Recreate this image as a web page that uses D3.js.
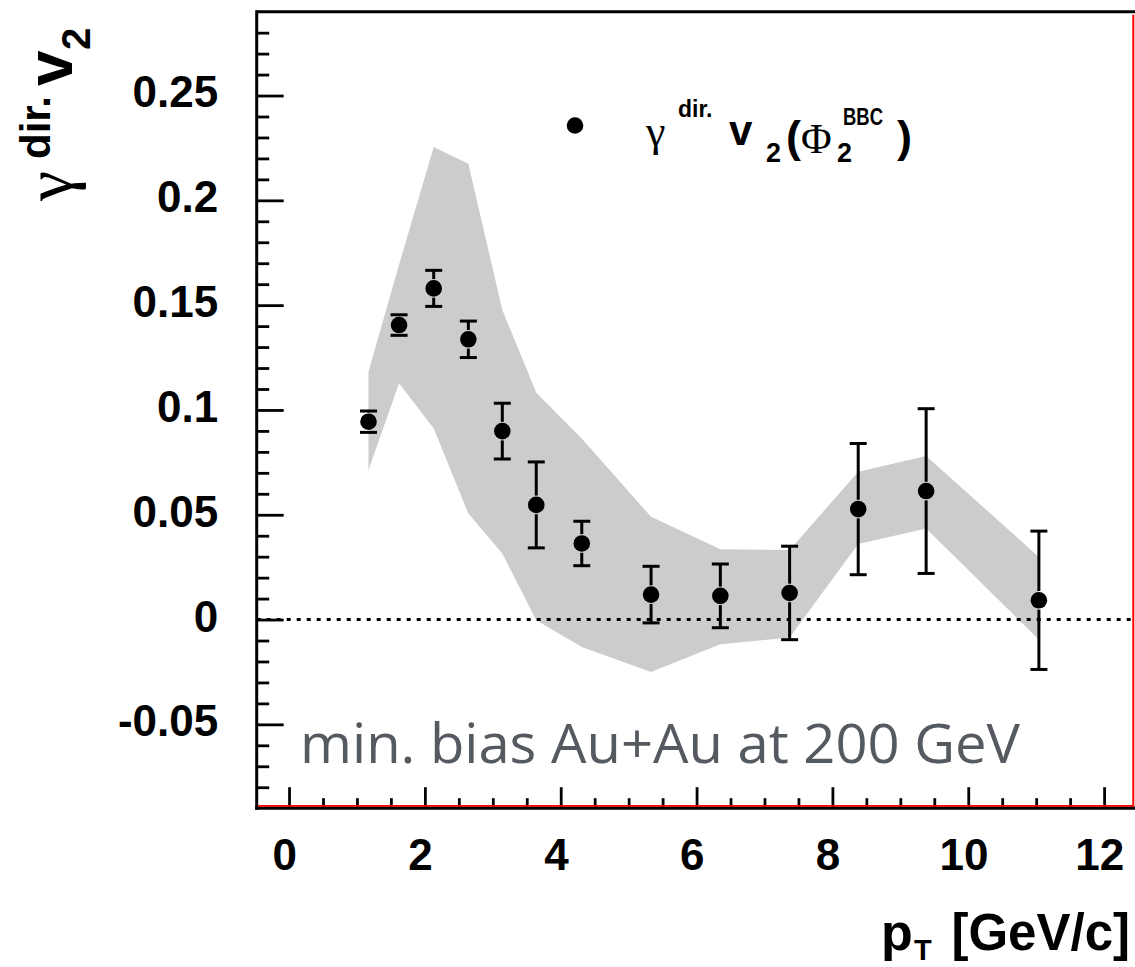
<!DOCTYPE html>
<html>
<head>
<meta charset="utf-8">
<script src="https://cdn.jsdelivr.net/npm/d3@7"></script>
<style>
  html, body { margin: 0; padding: 0; background: #fff; }
  svg { display: block; }
</style>
</head>
<body>
<script>
// ---- data ----
const pt      = [1.17, 1.62, 2.13, 2.64, 3.14, 3.64, 4.31, 5.33, 6.35, 7.37, 8.38, 9.38, 11.04];
const v2      = [0.0944, 0.1405, 0.158, 0.1337, 0.0899, 0.0547, 0.0363, 0.0119, 0.0113, 0.0127, 0.0527, 0.0613, 0.0092];
const statErr = [0.0051, 0.0049, 0.0086, 0.0087, 0.0133, 0.0205, 0.0106, 0.0135, 0.0152, 0.0223, 0.0313, 0.0393, 0.0330];
const sysHigh = [0.1182, 0.1693, 0.2254, 0.2175, 0.1477, 0.1082, 0.0864, 0.0490, 0.0336, 0.0332, 0.0705, 0.0780, 0.0299];
const sysLow  = [0.0713, 0.1127, 0.0912, 0.0506, 0.0315, -0.0003, -0.0131, -0.0250, -0.0118, -0.0086, 0.0360, 0.0435, -0.0096];

const xTicks = [0, 2, 4, 6, 8, 10, 12];
const yTicks = [-0.05, 0, 0.05, 0.1, 0.15, 0.2, 0.25];
const xMinorTicks = d3.range(1, 25).map(i => i / 2).filter(v => v % 2 !== 0);
const yMinorTicks = d3.range(-8, 29).map(i => i / 100).filter(v => Math.abs(v * 20 - Math.round(v * 20)) > 1e-6);
const xRange = [-0.476, 12.43];
const yRange = [-0.09, 0.29];
const annotation = "min. bias Au+Au at 200 GeV";

// ---- layout ----
const W = 1135, H = 967;
const pLeft = 256.7, pRight = 1133.3, pTop = 11.7, pBottom = 808.2;

const x = d3.scaleLinear().domain(xRange).range([pLeft, pRight]);
const y = d3.scaleLinear().domain(yRange).range([pBottom, pTop]);

const svg = d3.select("body").append("svg").attr("width", W).attr("height", H);
const FONT = "'Liberation Sans', Arial, Helvetica, sans-serif";
const SERIF = "'Liberation Serif', 'Times New Roman', serif";

// systematic band
const bandData = pt.map((p, i) => ({ p, lo: sysLow[i], hi: sysHigh[i] }));
svg.append("path")
  .datum(bandData)
  .attr("fill", "#cccccc")
  .attr("d", d3.area().x(d => x(d.p)).y0(d => y(d.lo)).y1(d => y(d.hi)));

// zero dotted line
svg.append("line")
  .attr("x1", pLeft).attr("x2", pRight)
  .attr("y1", y(0)).attr("y2", y(0))
  .attr("stroke", "#000").attr("stroke-width", 3)
  .attr("stroke-dasharray", "4,6");

// axes (ticks inward)
function styleAxis(g) {
  g.select(".domain").remove();
  g.selectAll(".tick line").attr("stroke", "#000").attr("stroke-width", 2.8);
  g.selectAll(".tick text")
    .attr("fill", "#000")
    .style("font-family", FONT).style("font-size", "44px").style("font-weight", "bold");
}
svg.append("g").attr("transform", `translate(${pLeft},0)`)
  .call(d3.axisLeft(y).tickValues(yMinorTicks).tickSize(-12.5).tickFormat(""))
  .call(styleAxis);
svg.append("g").attr("transform", `translate(${pLeft},0)`)
  .call(d3.axisLeft(y).tickValues(yTicks).tickSize(-27).tickPadding(38.5).tickFormat(d => String(d)))
  .call(styleAxis)
  .call(g => g.selectAll(".tick text").attr("dy", "0.26em"));

svg.append("g").attr("transform", `translate(0,${pBottom})`)
  .call(d3.axisBottom(x).tickValues(xMinorTicks).tickSize(-10).tickFormat(""))
  .call(styleAxis);
svg.append("g").attr("transform", `translate(0,${pBottom})`)
  .call(d3.axisBottom(x).tickValues(xTicks).tickSize(-21).tickPadding(30.5).tickFormat(d => String(d)))
  .call(styleAxis)
  .call(g => g.selectAll(".tick text").attr("dx", "-0.11em"));

// frame
svg.append("line").attr("x1", pLeft).attr("x2", W).attr("y1", pTop).attr("y2", pTop)
  .attr("stroke", "#000").attr("stroke-width", 3);
svg.append("line").attr("x1", pLeft).attr("x2", pLeft).attr("y1", pTop - 1.5).attr("y2", pBottom + 1.5)
  .attr("stroke", "#000").attr("stroke-width", 3);
svg.append("line").attr("x1", pLeft - 1.5).attr("x2", W).attr("y1", pBottom).attr("y2", pBottom)
  .attr("stroke", "#000").attr("stroke-width", 3.2);
svg.append("line").attr("x1", pLeft + 1.5).attr("x2", pRight).attr("y1", pBottom - 2.3).attr("y2", pBottom - 2.3)
  .attr("stroke", "#ff0000").attr("stroke-width", 1.8);
svg.append("line").attr("x1", pRight).attr("x2", pRight).attr("y1", pTop + 3).attr("y2", pBottom - 1.5)
  .attr("stroke", "#ff0000").attr("stroke-width", 2);

// error bars and markers
const R = 8.3, CAP = 8.5;
const pts = pt.map((p, i) => ({ p, v: v2[i], e: statErr[i] }));
const eg = svg.append("g").attr("stroke", "#000").attr("stroke-width", 3);
pts.forEach(d => {
  const cx = x(d.p), cy = y(d.v), yt = y(d.v + d.e), yb = y(d.v - d.e);
  if (cy - yt > R + 1) eg.append("line").attr("x1", cx).attr("x2", cx).attr("y1", yt).attr("y2", cy - R - 1);
  if (yb - cy > R + 1) eg.append("line").attr("x1", cx).attr("x2", cx).attr("y1", cy + R + 1).attr("y2", yb);
  eg.append("line").attr("x1", cx - CAP).attr("x2", cx + CAP).attr("y1", yt).attr("y2", yt);
  eg.append("line").attr("x1", cx - CAP).attr("x2", cx + CAP).attr("y1", yb).attr("y2", yb);
});
svg.append("g").selectAll("circle").data(pts).join("circle")
  .attr("cx", d => x(d.p)).attr("cy", d => y(d.v)).attr("r", R).attr("fill", "#000");

// legend
svg.append("circle").attr("cx", 575).attr("cy", 125.5).attr("r", R).attr("fill", "#000");
const lg = svg.append("g").attr("fill", "#000");
function t(g, txt, px, py, size, opts = {}) {
  const el = g.append("text").attr("x", px).attr("y", py).text(txt)
    .style("font-family", opts.serif ? SERIF : FONT)
    .style("font-size", size + "px")
    .style("font-weight", opts.normal || opts.serif ? "normal" : "bold");
  if (opts.len) el.attr("textLength", opts.len).attr("lengthAdjust", "spacingAndGlyphs");
  if (opts.anchor) el.attr("text-anchor", opts.anchor);
  return el;
}
t(lg, "\u03B3", 646, 146, 44, { serif: true });
t(lg, "dir.", 678, 117, 23);
t(lg, "v", 729, 145, 42);
t(lg, "2", 766, 162, 27);
t(lg, "(", 786, 152, 45);
t(lg, "\u03A6", 801, 153, 42, { serif: true });
t(lg, "BBC", 843, 125, 23, { len: 40 });
t(lg, "2", 837, 162, 27);
t(lg, ")", 897, 152, 45);

// y-axis title (rotated)
function rt(txt, bx, sy, size, opts = {}) {
  svg.append("text").attr("transform", `translate(${bx},${sy}) rotate(-90)`).text(txt)
    .attr("fill", "#000")
    .style("font-family", opts.serif ? SERIF : FONT)
    .style("font-size", size + "px")
    .style("font-weight", opts.serif ? "normal" : "bold");
}
rt("\u03B3", 72, 201, 68, { serif: true });
rt("dir.", 50, 159, 42);
rt("v", 72, 86, 64);
rt("2", 90, 50, 40);

// x-axis title
t(svg, "p", 881, 950, 52);
t(svg, "T", 914, 960, 29);
t(svg, "[GeV/c]", 1130, 950, 51, { anchor: "end" });

// annotation
svg.append("text").attr("x", 300).attr("y", 763).text(annotation)
  .attr("fill", "#555a60")
  .attr("textLength", 720).attr("lengthAdjust", "spacingAndGlyphs")
  .style("font-family", "'Open Sans', 'Noto Sans', sans-serif")
  .style("font-size", "54px");
</script>
</body>
</html>
